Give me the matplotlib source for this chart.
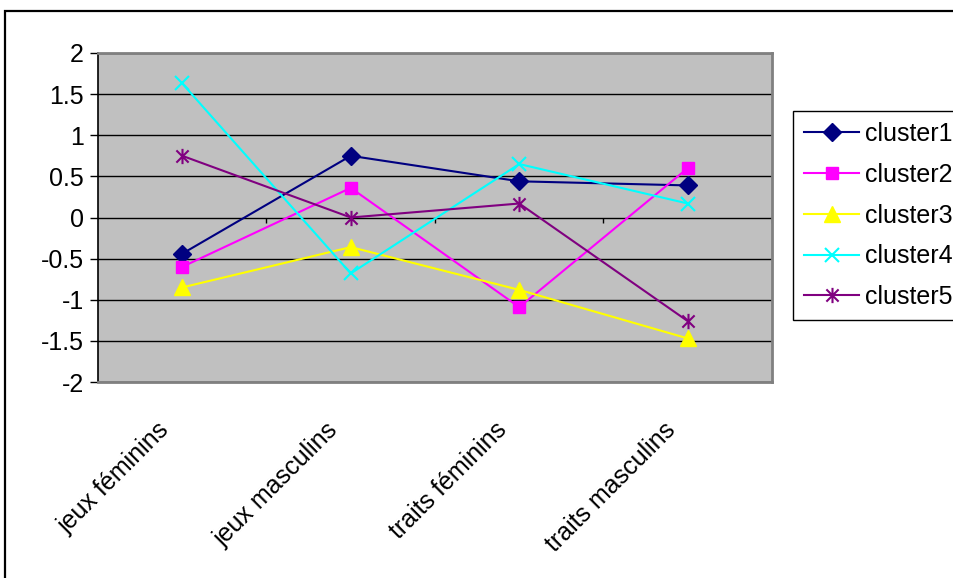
import numpy as np
import matplotlib
matplotlib.use("Agg")
import matplotlib.pyplot as plt
from matplotlib.path import Path
from matplotlib.patches import Rectangle
from matplotlib.transforms import ScaledTranslation

plt.rcParams['font.family'] = ['Liberation Sans', 'DejaVu Sans']
plt.rcParams['axes.unicode_minus'] = False

categories = ["jeux féminins", "jeux masculins", "traits féminins", "traits masculins"]
cluster1 = [-0.44, 0.75, 0.44, 0.39]
cluster2 = [-0.60, 0.36, -1.09, 0.60]
cluster3 = [-0.85, -0.36, -0.88, -1.47]
cluster4 = [1.63, -0.68, 0.65, 0.17]
cluster5 = [0.75, 0.00, 0.17, -1.26]
series_names = ["cluster1", "cluster2", "cluster3", "cluster4", "cluster5"]
series_values = [cluster1, cluster2, cluster3, cluster4, cluster5]
yticks = [-2, -1.5, -1, -0.5, 0, 0.5, 1, 1.5, 2]
ytick_labels = ["-2", "-1.5", "-1", "-0.5", "0", "0.5", "1", "1.5", "2"]

colors = ["#000080", "#FF00FF", "#FFFF00", "#00FFFF", "#800080"]
star = Path([(0, -1), (0, 1), (-0.8, -0.8), (0.8, 0.8), (-0.8, 0.8), (0.8, -0.8)],
            [Path.MOVETO, Path.LINETO, Path.MOVETO, Path.LINETO, Path.MOVETO, Path.LINETO])
markers = ["D", "s", "^", "x", star]
msizes = [9.5, 9, 11, 10, 11]
mews = [1, 1, 1, 1.5, 1.5]

W, H = 954, 578
fig = plt.figure(figsize=(W / 100, H / 100), dpi=100)
fig.patch.set_facecolor("white")

# outer chart border (extends past right/bottom edges)
fig.patches.append(Rectangle((5 / W, -0.1), 1.2, 1 - 11 / H + 0.1, transform=fig.transFigure,
                             fill=False, edgecolor="black", linewidth=1.6, zorder=0))

ax = fig.add_axes([98 / W, (H - 382) / H, 674 / W, 329 / H])
ax.set_facecolor("#C0C0C0")
x = np.arange(len(categories))
for name, vals, c, m, ms, mew in zip(series_names, series_values, colors, markers, msizes, mews):
    ax.plot(x, vals, color=c, linewidth=1.5, marker=m, markersize=ms,
            markerfacecolor=c, markeredgecolor=c, markeredgewidth=mew, label=name, zorder=3)

ax.set_xlim(-0.5, len(categories) - 0.5)
ax.set_ylim(-2, 2)
ax.set_yticks(yticks)
ax.set_yticklabels(ytick_labels, fontsize=18)
ax.yaxis.grid(True, color="black", linewidth=1)
ax.set_axisbelow(True)
ax.tick_params(axis="y", direction="out", length=6, width=1, pad=4, colors="black")

ax.set_xticks(x)
ax.set_xticklabels(categories, fontsize=18, rotation=45, ha="right", va="top")
ax.tick_params(axis="x", length=0, pad=22)
offset = ScaledTranslation(-8 / 100, -5 / 100, fig.dpi_scale_trans)
for lbl in ax.get_xticklabels():
    lbl.set_transform(lbl.get_transform() + offset)

for s in ["top", "right", "bottom"]:
    ax.spines[s].set_color("#808080")
    ax.spines[s].set_linewidth(2)
ax.spines["left"].set_color("black")
ax.spines["left"].set_linewidth(1.2)

# category-boundary tick marks on the zero line
bounds = np.arange(len(categories)) + 0.5
ax.vlines(bounds, -0.07, 0, color="black", linewidth=1, zorder=2)

leg = ax.legend(loc="upper left", bbox_to_anchor=(793 / W, 1 - 111 / H), bbox_transform=fig.transFigure,
                fontsize=18, frameon=True, fancybox=False, edgecolor="black", framealpha=1,
                handlelength=2.2, handletextpad=0.25, labelspacing=0.67, borderpad=0.45,
                borderaxespad=0)
leg.get_frame().set_linewidth(1)

fig.savefig("out.png", dpi=100)
